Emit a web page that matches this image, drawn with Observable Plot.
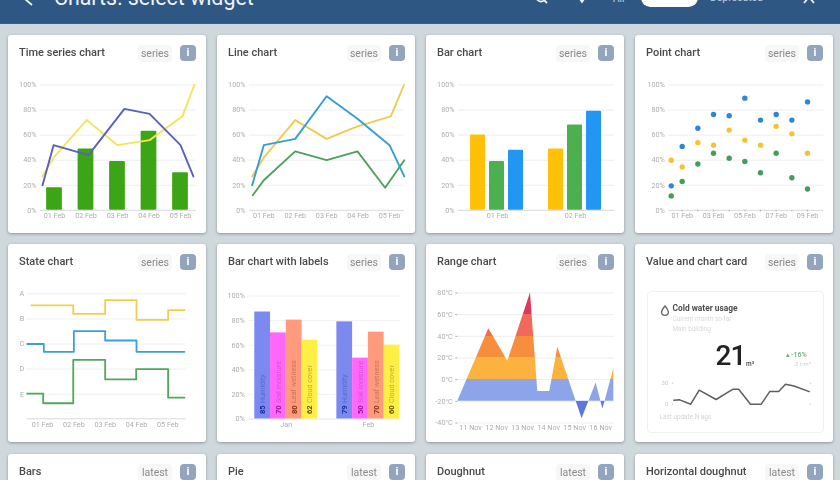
<!DOCTYPE html>
<html><head><meta charset="utf-8">
<script src="https://cdn.jsdelivr.net/npm/d3@7"></script>
<script src="https://cdn.jsdelivr.net/npm/@observablehq/plot@0.6"></script>
<style>
html,body{margin:0;padding:0;width:840px;height:480px;overflow:hidden;background:#cfd8dc;font-family:Roboto,sans-serif}
#root{position:relative;width:840px;height:480px;overflow:hidden;filter:blur(.45px)}
#hdr{position:absolute;left:0;top:0;width:840px;height:23px;background:#2f5783;border-bottom:1px solid #3f5f80}
.abs{position:absolute;white-space:nowrap}
.card{position:absolute;background:#fff;border-radius:3px;box-shadow:0 1px 3px rgba(40,50,60,.4)}
.card svg{position:absolute;left:0;top:0;overflow:visible}
.ttl{position:absolute;left:11px;top:11px;font-size:11px;font-weight:500;color:#4a4a4a;line-height:14px;white-space:nowrap}
.chip{position:absolute;top:10px;width:34px;height:17px;left:130px;background:#f7f7f7;border-radius:4px;color:#8a8a8a;font-size:10.5px;line-height:17px;text-align:center}
.btn{position:absolute;top:10px;left:172px;width:16px;height:16px;background:#92a5bd;border-radius:4px;color:#fff;font-size:11px;font-weight:700;line-height:16px;text-align:center}
#vc{position:absolute;left:11.5px;top:46.5px;width:175px;height:140px;border:1px solid #f0f0f0;border-radius:4px}
</style></head><body><div id="root"><div id="hdr"></div></div>
<script>
// ---- data ----
const percentTicks=[0,20,40,60,80,100];
const tsBarDays=[1,2,3,4,5];
const tsBarValues=[18,49,39,63,30];
const tsYellowDays=[0.62,0.97,2.02,3,4.02,5.06,5.44];
const tsYellowValues=[27,42,72,52,56,75,100];
const tsPurpleDays=[0.62,0.97,2.08,3.22,4.02,5,5.41];
const tsPurpleValues=[20,52,44,81,77,52,27];

const lineYellowDays=[0.63,1,2,3,3.98,5.04,5.46];
const lineYellowValues=[27,42,72,57,67,75,100];
const lineBlueDays=[0.63,1,2,3,3.98,5,5.47];
const lineBlueValues=[20,52,57,91,73,52,27];
const lineGreenDays=[0.65,1,2,3,3.98,4.86,5.47];
const lineGreenValues=[12,24,47,40,47,18,40];

const barDates=["01 Feb","02 Feb"];
const barSeries=["a","b","c"];
const barValues=[[60,39,48],[49,68,79]];
const barColors=["#ffc107","#4caf50","#2196f3"];

const pointDays=[0.3,1,2,3,4,5,6,7,8,9];
const pointBlue=[19.5,51,65.5,76.5,75.5,89.5,72,76.5,72,86.5];
const pointYellow=[40,34.5,54,52,64,56,52,67,61,45.5];
const pointGreen=[11.5,23,37,45.5,41.5,39,30,45.5,26,17];

const stateNames=["A","B","C","D","E"];
const stateYellowDays=[0.64,1.98,3,4,5.01,5.53];
const stateYellow=[0.46,0.8,0.25,1.04,0.65,0.65];
const stateBlueDays=[0.51,1.04,2,3,4,5.53];
const stateBlue=[2,2.31,1.49,1.86,2.31,2.31];
const stateGreenDays=[0.51,1.02,1.98,3,3.99,5.01,5.53];
const stateGreen=[3.98,4.36,2.63,3.41,3,4.14,4.14];

const labelMonths=["Jan","Feb"];
const labelMonthStart=[0,5.21];
const labelSeries=["Humidity","Soil moisture","Leaf wetness","Cloud cover"];
const labelHeights=[[87,70,80.4,64],[79,49.5,70.6,60]];
const labelPrinted=[[85,70,80,62],[79,50,70,60]];
const labelFill=["#7c8af0","#ff66fa","#ff9a7c","#ffee44"];
const labelValueInk=["#1d2a9a","#9c109c","#84321a","#5e5400"];
const labelNameInk=["#5a66cc","#d850d8","#cc7558","#bdae3c"];

const rangeDays=[10.51,11.7,12.43,13.3,13.58,14.04,14.35,15.28,15.82,16.08,16.5];
const rangeTemps=[-20,47,17,80,-11,-11,30,-36,-3,-27,10];
const rangeTicks=[-40,-20,0,20,40,60,80];
const rangeDates=[11,12,13,14,15,16];
const rangeBands=[[80,60,"#d93a5c"],[60,40,"#f0695a"],[40,20,"#f68e3e"],[20,0,"#fbb23e"],[0,-20,"#8ea4ea"],[-20,-40,"#5f77dc"]];

const sparkHours=[0,1.06,3,4.5,7.5,10.5,11.5,13.6,15.5,17,18.6,19.8,21.3,24];
const sparkValues=[5.7,6.2,0,20,6.7,21.4,21.4,0,0,18,18,28.6,26,18];

const cardTitles=["Time series chart","Line chart","Bar chart","Point chart","State chart","Bar chart with labels","Range chart","Value and chart card","Bars","Pie","Doughnut","Horizontal doughnut"];
const cardTags=["series","series","series","series","series","series","series","series","latest","latest","latest","latest"];
const colLeft=[8,217,426,635];
const rowTop=[34.5,244,454];

// ---- helpers ----
const root=document.getElementById("root");
const hdr=document.getElementById("hdr");
function el(parent,cls,css,txt){const e=document.createElement("div");if(cls)e.className=cls;if(css)e.style.cssText=css;if(txt!=null)e.textContent=txt;parent.appendChild(e);return e;}
const cards=cardTitles.map((t,i)=>{
  const c=el(root,"card",`left:${colLeft[i%4]}px;top:${rowTop[Math.floor(i/4)]}px;width:198px;height:198px`);
  el(c,"ttl","",t);el(c,"chip","",cardTags[i]);el(c,"btn","","i");return c;
});
const GRID="#eeeeee",BASE="#d9d9d9",INK="#adadad";
const style={fontFamily:"Roboto",fontSize:"7.2px",color:INK,background:"transparent",overflow:"visible"};
const feb=d=>String(d).padStart(2,"0")+" Feb";
const zip=(xs,ys)=>xs.map((x,i)=>({x,y:ys[i]}));
const pct=(o={})=>Plot.axisY({ticks:percentTicks,tickFormat:d=>d+"%",tickSize:0,tickPadding:4,label:null,...o});
const grid=(m={})=>[Plot.ruleY(percentTicks.slice(1),{stroke:GRID,...m}),Plot.ruleY([0],{stroke:BASE,...m})];
const febAxis=(ticks,o={})=>Plot.axisX({ticks,tickFormat:feb,tickSize:0,tickPadding:3,label:null,...o});
const ln=(xs,ys,stroke,w=1.9)=>Plot.line(zip(xs,ys),{x:"x",y:"y",stroke,strokeWidth:w});
const place=(i,p)=>{cards[i].appendChild(p);};
const base={width:198,height:198,marginTop:49.5,marginBottom:23.2,style,y:{domain:[0,100]}};

// 1 Time series
place(0,Plot.plot({...base,marginLeft:32,marginRight:10,x:{domain:[0.556,5.508]},marks:[
  ...grid(),
  Plot.rectY(tsBarDays.map((d,i)=>({d,v:tsBarValues[i]})),{x1:d=>d.d-0.25,x2:d=>d.d+0.25,y:"v",fill:"#3ca515",rx:1}),
  ln(tsYellowDays,tsYellowValues,"#f0e65a"),ln(tsPurpleDays,tsPurpleValues,"#5b5fbd"),
  pct(),febAxis(tsBarDays)]}));

// 2 Line
place(1,Plot.plot({...base,marginLeft:32,marginRight:11,x:{domain:[0.546,5.476]},marks:[
  ...grid(),
  ln(lineYellowDays,lineYellowValues,"#efcc4c"),ln(lineGreenDays,lineGreenValues,"#4fa05e"),ln(lineBlueDays,lineBlueValues,"#349fd6"),
  pct(),febAxis(tsBarDays)]}));

// 3 Bar
const barRows=barDates.flatMap((date,i)=>barSeries.map((s,j)=>({date,s,v:barValues[i][j]})));
place(2,Plot.plot({...base,marginLeft:31,marginRight:10,
  fx:{domain:barDates,padding:0},x:{domain:barSeries,padding:.187,paddingOuter:.58,axis:null},
  color:{domain:barSeries,range:barColors},marks:[
  ...grid(),
  Plot.barY(barRows,{fx:"date",x:"s",y:"v",fill:"s",rx:1}),
  pct(),Plot.axisFx({anchor:"bottom",tickSize:0,tickPadding:3,label:null})]}));

// 4 Point
const pts=(ys,fill)=>Plot.dot(zip(pointDays,ys),{x:"x",y:"y",fill,r:2.7});
place(3,Plot.plot({...base,marginLeft:33.3,marginRight:9.7,x:{domain:[0.145,10.04]},marks:[
  ...grid(),
  pts(pointGreen,"#459c5c"),pts(pointYellow,"#f2c530"),pts(pointBlue,"#2f86d6"),
  pct(),Plot.axisX({ticks:[1,2,3,4,5,6,7,8,9],tickFormat:d=>d%2?feb(d):"",tickSize:1.5,tickPadding:1.5,label:null})]}));

// 5 State
const stateLine=(xs,ys,stroke)=>Plot.line(zip(xs,ys),{x:"x",y:"y",stroke,strokeWidth:1.8,curve:"step-after"});
place(4,Plot.plot({width:198,height:198,marginTop:49.3,marginBottom:23.7,marginLeft:18.7,marginRight:20.3,style,
  x:{domain:[0.51,5.587]},y:{domain:[4.98,0]},marks:[
  Plot.ruleY([0,1,2,3,4],{stroke:GRID}),Plot.ruleY([4.98],{stroke:BASE}),
  stateLine(stateYellowDays,stateYellow,"#efcf4c"),stateLine(stateBlueDays,stateBlue,"#3a9fdc"),stateLine(stateGreenDays,stateGreen,"#4ea85c"),
  Plot.axisY({ticks:[0,1,2,3,4],tickFormat:d=>stateNames[d],tickSize:0,tickPadding:3,label:null}),
  febAxis(tsBarDays)]}));

// 6 Bars with labels
const labelRows=labelMonths.flatMap((month,i)=>labelSeries.map((s,j)=>({x1:labelMonthStart[i]+j,s,h:labelHeights[i][j],shown:labelPrinted[i][j],val:labelValueInk[j],nam:labelNameInk[j]})));
const monthCentres=labelMonthStart.map(s=>s+2);
place(5,Plot.plot({width:198,height:198,marginTop:51.5,marginBottom:23.5,marginLeft:31.3,marginRight:15,style,
  y:{domain:[0,100]},x:{domain:[-0.38,9.25]},
  color:{domain:labelSeries,range:labelFill},marks:[
  Plot.ruleY([20,40,60,80,100],{stroke:"#f2f2f2"}),Plot.ruleY([0],{stroke:"#e4e4e4"}),
  Plot.rectY(labelRows,{x1:"x1",x2:d=>d.x1+1,y:"h",fill:"s"}),
  Plot.text(labelRows,{x:d=>d.x1+.5,y:0,text:"shown",rotate:-90,textAnchor:"start",dy:-5,fill:"val",fontWeight:700,fontSize:7.6}),
  Plot.text(labelRows,{x:d=>d.x1+.5,y:0,text:"s",rotate:-90,textAnchor:"start",dy:-16,fill:"nam",fontSize:7.2}),
  pct({tickPadding:4}),
  Plot.axisX({ticks:monthCentres,tickFormat:(d,i)=>labelMonths[i],tickSize:0,tickPadding:3,label:null})]}));

// 7 Range
const rangeDefs=(index,{y})=>{
  const top=y(80),bot=y(-40);
  const defs=d3.create("svg:defs");
  const g=defs.append("linearGradient").attr("id","rangeFill").attr("gradientUnits","userSpaceOnUse").attr("x1",0).attr("x2",0).attr("y1",top).attr("y2",bot);
  rangeBands.forEach(([hi,lo,c])=>{
    g.append("stop").attr("offset",(y(hi)-top)/(bot-top)).attr("stop-color",c);
    g.append("stop").attr("offset",(y(lo)-top)/(bot-top)).attr("stop-color",c);
  });
  return defs.node();
};
place(6,Plot.plot({width:198,height:198,marginTop:48.5,marginBottom:19.5,marginLeft:31.3,marginRight:10,style,
  x:{domain:[10.51,16.525]},y:{domain:[-40,80]},marks:[
  rangeDefs,
  Plot.ruleY(rangeTicks,{stroke:GRID}),
  Plot.areaY(zip(rangeDays,rangeTemps),{x:"x",y1:-20,y2:"y",fill:"url(#rangeFill)"}),
  Plot.axisY({ticks:rangeTicks,tickFormat:d=>d+"°C",tickSize:2,tickPadding:3,label:null}),
  Plot.axisX({ticks:rangeDates,tickFormat:d=>d+" Nov",tickSize:0,tickPadding:1.5,label:null})]}));

// 8 Value card
const vc=el(cards[7],"","");vc.id="vc";
vc.innerHTML=`<svg width="10" height="11" viewBox="0 0 10 11" style="left:12px;top:13px"><path d="M5 1 C7 3.5 8.4 5 8.4 7 A3.4 3.4 0 0 1 1.6 7 C1.6 5 3 3.5 5 1Z" fill="none" stroke="#666" stroke-width="1.3"/></svg>`;
el(vc,"abs","left:25px;top:10px;font-size:8.4px;font-weight:700;color:#4d4d4d;line-height:12px","Cold water usage");
el(vc,"abs","left:25px;top:22px;font-size:6.4px;color:#d8d8d8;line-height:10px","Current month so far");
el(vc,"abs","left:25px;top:32px;font-size:6.4px;color:#d8d8d8;line-height:10px","Main building");
el(vc,"abs","left:68px;top:47px;font-size:28px;font-weight:500;letter-spacing:-1px;color:#222;line-height:34px","21");
el(vc,"abs","left:98.5px;top:67px;font-size:6.5px;font-weight:500;color:#444;line-height:10px","m³");
el(vc,"abs","left:138px;top:58px;font-size:7px;font-weight:500;color:#69a884;line-height:10px","▴ -16%");
el(vc,"abs","left:146px;top:67px;font-size:5.8px;color:#d0d0d0;line-height:10px","-3 l/m³");
el(vc,"abs","left:12px;top:120px;font-size:6.4px;color:#d4d4d4;line-height:10px","Last update N ago");
const spark=Plot.plot({width:175,height:60,marginTop:11.7,marginBottom:27.3,marginLeft:25.3,marginRight:14.3,
  style:{...style,fontSize:"6px",color:"#c8c8c8"},x:{domain:[0,24],axis:null},y:{domain:[0,30]},marks:[
  ln(sparkHours,sparkValues,"#5e5e5e",1.5),
  Plot.axisY({ticks:[0,30],tickSize:1.5,tickPadding:4,label:null}),
  Plot.axisY({anchor:"right",ticks:[0,30],tickFormat:()=>"",tickSize:1.5,label:null})]});
spark.style.left="0px";spark.style.top="79px";vc.appendChild(spark);

// Header
el(hdr,"abs","left:54px;top:-15px;font-size:21.4px;color:#f0f4f8;line-height:26px","Charts: select widget");
el(hdr,"abs","left:613px;top:-7px;font-size:10px;color:#c6d2de;line-height:12px","All");
el(hdr,"abs","left:641px;top:-12px;width:57px;height:19px;border-radius:10px;background:#fff;color:#33557a;font-size:10px;line-height:15px;text-align:center","Actual");
el(hdr,"abs","left:710px;top:-8px;font-size:10.4px;color:#bdcbd9;line-height:12px","Deprecated");
const icons=document.createElementNS("http://www.w3.org/2000/svg","svg");
icons.setAttribute("width","840");icons.setAttribute("height","23");icons.style.cssText="position:absolute;left:0;top:0";
icons.innerHTML=`<g fill="none" stroke="#eaf0f5" stroke-width="1.8"><path d="M31 -3 L25 -1 M25 -1 L32 5"/><circle cx="541" cy="-3" r="4.5"/><path d="M544 0 L547 3"/><path d="M580 -1 L582 2 L584 -1"/><path d="M804 3 L809 -3 M814 3 L809 -3"/></g>`;
hdr.appendChild(icons);
</script></body></html>
